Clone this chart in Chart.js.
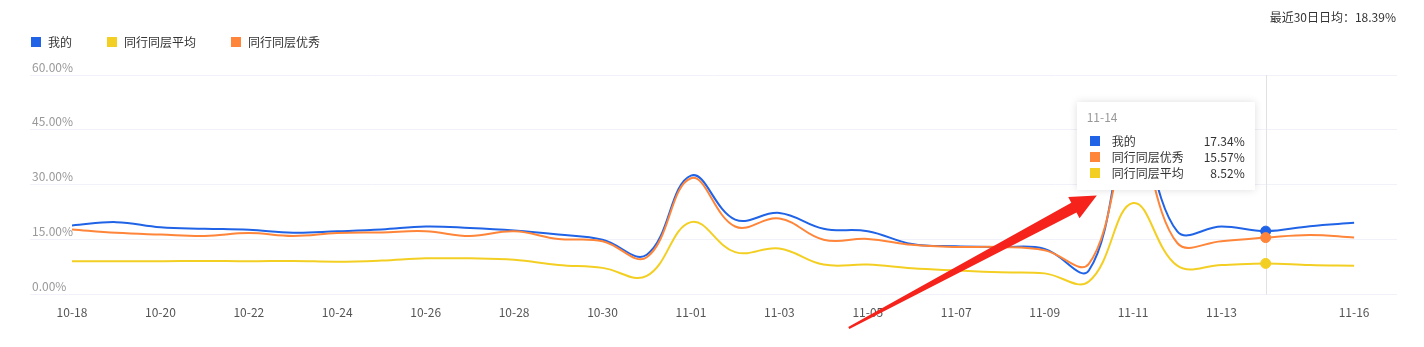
<!DOCTYPE html>
<html>
<head>
<meta charset="utf-8">
<script src="https://cdn.jsdelivr.net/npm/chart.js@4"></script>
<style>
  body { margin: 0; background: #fff; font-family: "Microsoft YaHei", "Noto Sans CJK SC", sans-serif; }
  #wrap { position: relative; width: 1424px; height: 347px; overflow: hidden; }
  #myChart { position: absolute; left: 0; top: 0; }
  .avg { position: absolute; right: 28px; top: 10px; font-size: 12px; line-height: 14px; color: #333; }
  .legend { position: absolute; left: 31px; top: 36px; display: flex; font-size: 12px; line-height: 12px; color: #333; }
  .legend .item { display: flex; align-items: center; margin-right: 35px; }
  .legend i { display: inline-block; width: 10px; height: 10px; margin-right: 7px; }
  #tip { position: absolute; width: 178px; box-sizing: border-box; padding: 6px 10px 9px 10px; background: #fff;
         box-shadow: 0 0 8px rgba(0,0,0,0.13); font-size: 12px; color: #333; opacity: 0; pointer-events: none; }
  #tip .tt-title { color: #999; line-height: 18px; margin-bottom: 7px; }
  #tip .tt-row { display: flex; align-items: center; line-height: 16px; }
  #tip .tt-row i { display: inline-block; width: 10px; height: 10px; margin: 0 12px 0 3px; }
  #tip .tt-row b { font-weight: normal; margin-left: auto; }
</style>
</head>
<body>
<div id="wrap">
  <canvas id="myChart" width="1424" height="347"></canvas>
  <div class="avg">最近30日日均：18.39%</div>
  <div class="legend" id="legend"></div>
  <div id="tip"></div>
</div>
<script>
const dates = ['10-18', '10-19', '10-20', '10-21', '10-22', '10-23', '10-24', '10-25', '10-26', '10-27',
  '10-28', '10-29', '10-30', '10-31', '11-01', '11-02', '11-03', '11-04', '11-05', '11-06',
  '11-07', '11-08', '11-09', '11-10', '11-11', '11-12', '11-13', '11-14', '11-15', '11-16'];
const tickIndexes = [0, 2, 4, 6, 8, 10, 12, 14, 16, 18, 20, 22, 24, 26, 29];

// percentages
const mine = [18.9, 19.8, 18.4, 18.0, 17.7, 16.9, 17.3, 17.8, 18.6, 18.2,
  17.5, 16.4, 15.0, 10.9, 32.5, 20.5, 22.3, 18.0, 17.3, 13.8,
  13.2, 13.0, 12.5, 6.6, 48.0, 17.3, 18.6, 17.34, 18.7, 19.6];
const peerAvg = [9.1, 9.1, 9.1, 9.2, 9.1, 9.2, 9.0, 9.3, 9.9, 9.9,
  9.5, 8.1, 7.3, 5.1, 19.8, 11.6, 12.6, 8.2, 8.2, 7.2,
  6.6, 6.1, 5.8, 3.6, 25.0, 7.9, 8.1, 8.52, 8.1, 7.9];
const peerTop = [17.8, 16.9, 16.4, 16.0, 16.8, 16.0, 16.8, 17.0, 17.3, 16.0,
  17.3, 15.2, 14.6, 10.2, 31.8, 18.6, 20.8, 15.0, 15.2, 13.6,
  13.0, 13.0, 12.1, 8.4, 44.0, 14.1, 14.6, 15.57, 16.3, 15.6];

const seriesNames = ['我的', '同行同层平均', '同行同层优秀'];
const seriesColors = ['#2063e6', '#f4cf23', '#fe853a'];
const drawOrder = [1, 2, 0];
const yTicks = [0, 15, 30, 45, 60];
const hoverIndex = 27;

const toPoints = arr => arr.map((v, i) => ({x: i, y: v}));

// legend
document.getElementById('legend').innerHTML = seriesNames.map((n, i) =>
  `<div class="item"><i style="background:${seriesColors[i]}"></i>${n}</div>`).join('');

const hoverLine = {
  id: 'hoverLine',
  beforeDatasetsDraw(chart) {
    const active = chart.tooltip.getActiveElements();
    if (!active.length) return;
    const x = Math.round(active[0].element.x) + 0.5;
    const {top, bottom} = chart.chartArea;
    const ctx = chart.ctx;
    ctx.save();
    ctx.strokeStyle = '#e2e2e2';
    ctx.lineWidth = 1;
    ctx.beginPath();
    ctx.moveTo(x, top);
    ctx.lineTo(x, bottom);
    ctx.stroke();
    ctx.restore();
  }
};

// red annotation arrow pointing at the tooltip
const arrow = {
  id: 'arrow',
  afterDraw(chart) {
    const xs = chart.scales.x, ys = chart.scales.y, ctx = chart.ctx;
    const x0 = xs.getPixelForValue(17.57), y0 = chart.height - 19;
    const x1 = xs.getPixelForValue(23.18), y1 = ys.getPixelForValue(27.1);
    const dx = x1 - x0, dy = y1 - y0, len = Math.hypot(dx, dy);
    const ux = dx / len, uy = dy / len, nx = -uy, ny = ux;
    const headLen = 26, headW = 12, shaftW = 5.5, tailW = 1.2;
    const bx = x1 - ux * headLen, by = y1 - uy * headLen;
    ctx.save();
    ctx.fillStyle = '#f5231b';
    ctx.beginPath();
    ctx.moveTo(x0 + nx * tailW, y0 + ny * tailW);
    ctx.lineTo(bx + nx * shaftW, by + ny * shaftW);
    ctx.lineTo(bx + nx * headW, by + ny * headW);
    ctx.lineTo(x1, y1);
    ctx.lineTo(bx - nx * headW, by - ny * headW);
    ctx.lineTo(bx - nx * shaftW, by - ny * shaftW);
    ctx.lineTo(x0 - nx * tailW, y0 - ny * tailW);
    ctx.closePath();
    ctx.fill();
    ctx.restore();
  }
};

const tipEl = document.getElementById('tip');
function externalTip(context) {
  const {chart, tooltip} = context;
  if (tooltip.opacity === 0 || !tooltip.dataPoints || !tooltip.dataPoints.length) {
    tipEl.style.opacity = 0;
    return;
  }
  const idx = tooltip.dataPoints[0].dataIndex;
  tipEl.innerHTML = `<div class="tt-title">${dates[idx]}</div>` +
    tooltip.dataPoints.map(dp =>
      `<div class="tt-row"><i style="background:${dp.dataset.borderColor}"></i><span>${dp.dataset.label}</span><b>${dp.parsed.y.toFixed(2)}%</b></div>`
    ).join('');
  tipEl.style.opacity = 1;
  tipEl.style.left = (tooltip.caretX - 11 - tipEl.offsetWidth) + 'px';
  tipEl.style.top = (chart.chartArea.top + 27) + 'px';
}

Chart.defaults.font.family = '"Microsoft YaHei", "Noto Sans CJK SC", sans-serif';
Chart.defaults.font.size = 12;

const makeSet = (i, data) => ({
  label: seriesNames[i],
  data: toPoints(data),
  order: drawOrder[i],
  borderColor: seriesColors[i],
  backgroundColor: seriesColors[i],
  borderWidth: 2,
  tension: 0.4,
  pointRadius: 0,
  pointHoverRadius: 5,
  pointHoverBorderWidth: 1,
  pointHoverBackgroundColor: seriesColors[i],
  pointHoverBorderColor: seriesColors[i],
  fill: false
});

const ctx = document.getElementById('myChart').getContext('2d');
const myChart = new Chart(ctx, {
  type: 'line',
  data: {
    datasets: [makeSet(0, mine), makeSet(1, peerAvg), makeSet(2, peerTop)]
  },
  options: {
    responsive: false,
    animation: false,
    layout: { padding: { left: 26, right: 27, top: 75, bottom: 16 } },
    interaction: { mode: 'index', intersect: false },
    scales: {
      x: {
        type: 'linear',
        min: -0.95,
        max: 29.97,
        afterBuildTicks: scale => { scale.ticks = tickIndexes.map(v => ({value: v})); },
        grid: { display: false, drawTicks: false },
        border: { display: false },
        ticks: {
          autoSkip: false,
          maxRotation: 0,
          padding: 11,
          color: '#555',
          callback: v => dates[v]
        }
      },
      y: {
        min: 0,
        max: 60,
        afterBuildTicks: scale => { scale.ticks = yTicks.map(v => ({value: v})); },
        grid: { color: '#f1f2f9', drawTicks: false },
        border: { display: false },
        ticks: {
          mirror: true,
          padding: 2,
          labelOffset: -8,
          color: '#999',
          callback: v => v.toFixed(2) + '%'
        }
      }
    },
    plugins: {
      legend: { display: false },
      tooltip: {
        enabled: false,
        external: externalTip,
        itemSort: (a, b) => b.parsed.y - a.parsed.y
      }
    }
  },
  plugins: [hoverLine, arrow]
});

const active = [0, 1, 2].map(d => ({datasetIndex: d, index: hoverIndex}));
myChart.setActiveElements(active);
myChart.tooltip.setActiveElements(active, {x: 0, y: 0});
myChart.update();
</script>
</body>
</html>
